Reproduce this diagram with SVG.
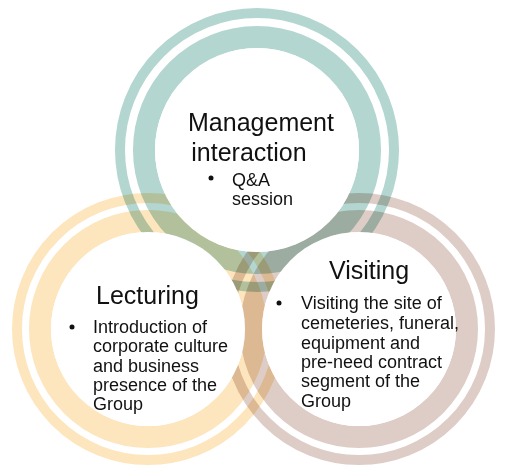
<svg xmlns="http://www.w3.org/2000/svg" width="505" height="468" viewBox="0 0 505 468">
<style>
.ring{fill:none;mix-blend-mode:multiply}
.teal{stroke:#B4D6D0}
.yel{stroke:#FDE6BE}
.brn{stroke:#DECDC6}
.thin{stroke-width:10}
.thick{stroke-width:22}
.disc{fill:#FFFFFF}
.title{font-family:"Liberation Sans",Arial,Helvetica,sans-serif;font-size:25px;fill:#111}
.body{font-family:"Liberation Sans",Arial,Helvetica,sans-serif;font-size:18px;fill:#111}
.dot{fill:#111}
</style>
<rect width="505" height="468" fill="#FFFFFF"/>
<g id="rings">
<circle class="ring teal thin" cx="257" cy="150" r="137"/>
<circle class="ring teal thick" cx="257" cy="150" r="113"/>
<circle class="ring yel thin" cx="148" cy="329" r="131"/>
<circle class="ring yel thick" cx="148" cy="329" r="108"/>
<circle class="ring brn thin" cx="359" cy="329" r="131"/>
<circle class="ring brn thick" cx="359" cy="329" r="108"/>
</g>
<g id="management">
<circle class="disc" cx="257" cy="150" r="102"/>
<text class="title" x="261" y="131" text-anchor="middle">Management</text>
<text class="title" x="249" y="161" text-anchor="middle">interaction</text>
<circle class="dot" cx="211" cy="178" r="2.5"/>
<text class="body" x="232" y="186">Q&amp;A</text>
<text class="body" x="232" y="205">session</text>
</g>
<g id="lecturing">
<circle class="disc" cx="148" cy="329" r="97"/>
<text class="title" x="96" y="304">Lecturing</text>
<circle class="dot" cx="72" cy="327" r="2.5"/>
<text class="body" x="93" y="333">Introduction of</text>
<text class="body" x="93" y="352">corporate culture</text>
<text class="body" x="93" y="372">and business</text>
<text class="body" x="93" y="391">presence of the</text>
<text class="body" x="93" y="410">Group</text>
</g>
<g id="visiting">
<circle class="disc" cx="359" cy="329" r="97"/>
<text class="title" x="329" y="279">Visiting</text>
<circle class="dot" cx="279" cy="303" r="2.5"/>
<text class="body" x="301" y="309">Visiting the site of</text>
<text class="body" x="301" y="329">cemeteries, funeral,</text>
<text class="body" x="301" y="349">equipment and</text>
<text class="body" x="301" y="368">pre-need contract</text>
<text class="body" x="301" y="387">segment of the</text>
<text class="body" x="301" y="407">Group</text>
</g>
</svg>
